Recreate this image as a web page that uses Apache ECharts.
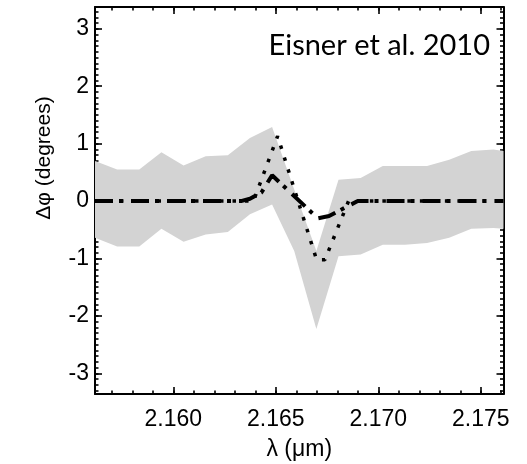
<!DOCTYPE html>
<html>
<head>
<meta charset="utf-8">
<script src="https://cdn.jsdelivr.net/npm/echarts@6/dist/echarts.min.js"></script>
<style>
html,body{margin:0;padding:0;background:#fff;}
#chart{width:527px;height:464px;}
</style>
</head>
<body>
<div id="chart"></div>
<script>
// ---- data ----
const bandLambda = [2.15618, 2.15726, 2.15834, 2.15942, 2.16050, 2.16158, 2.16266, 2.16374, 2.16482, 2.16590,
                    2.16698, 2.16806, 2.16914, 2.17022, 2.17130, 2.17238, 2.17346, 2.17454, 2.17562, 2.17611];
const bandUpper = [0.70, 0.55, 0.55, 0.85, 0.62, 0.78, 0.80, 1.10, 1.29, 0.20,
                   -0.87, 0.37, 0.40, 0.61, 0.61, 0.61, 0.72, 0.87, 0.90, 0.87];
const bandLower = [-0.64, -0.79, -0.79, -0.48, -0.71, -0.58, -0.54, -0.23, -0.06, -0.87,
                   -2.23, -0.96, -0.93, -0.76, -0.76, -0.73, -0.64, -0.48, -0.47, -0.48];

const dotLambda = [2.15618, 2.16391, 2.16509, 2.16699, 2.16740, 2.16855, 2.17611];
const dotValue  = [0, 0, 1.13, -1.02, -1.02, 0, 0];

const dashDotLambda = [2.15618, 2.16330, 2.16374, 2.16430, 2.16482, 2.16705, 2.16760, 2.16840, 2.16900, 2.17611];
const dashDotValue  = [0, 0, 0.04, 0.15, 0.45, -0.30, -0.26, -0.11, 0, 0];

const xMajorTicks = [2.160, 2.165, 2.170, 2.175];
const yMajorTicks = [-3, -2, -1, 0, 1, 2, 3];

const xMin = 2.15618, xMax = 2.17611;
const yMin = -3.36, yMax = 3.38;

const title = 'Eisner et al. 2010';
const xName = 'λ (μm)';
const yName = 'Δφ (degrees)';

// minor tick positions
const xMinorTicks = [];
for (let k = 2157; k <= 2176; k++) xMinorTicks.push(k / 1000);
const yMinorTicks = [];
for (let k = -33; k <= 33; k++) yMinorTicks.push(k / 10);

const FONT = '"Liberation Sans", Arial, Helvetica, sans-serif';

function xAx(pos, vals, len, labels, line) {
  return {
    type: 'value', min: xMin, max: xMax, position: pos, gridIndex: 0,
    axisLine: {show: line, onZero: false, lineStyle: {color: '#000', width: 2}},
    axisTick: {show: true, inside: true, length: len, customValues: vals, lineStyle: {color: '#000', width: 1.6}},
    axisLabel: labels ? {show: true, customValues: xMajorTicks, formatter: v => v.toFixed(3),
      color: '#000', fontSize: 23, fontFamily: FONT, margin: 14} : {show: false},
    splitLine: {show: false},
    name: labels ? xName : '', nameLocation: 'middle', nameGap: 44,
    nameTextStyle: {color: '#000', fontSize: 23, fontFamily: FONT}
  };
}
function yAx(pos, vals, len, labels, line) {
  return {
    type: 'value', min: yMin, max: yMax, position: pos, gridIndex: 0,
    axisLine: {show: line, onZero: false, lineStyle: {color: '#000', width: 2}},
    axisTick: {show: true, inside: true, length: len, customValues: vals, lineStyle: {color: '#000', width: 1.6}},
    axisLabel: labels ? {show: true, customValues: yMajorTicks, formatter: v => String(Math.round(v)),
      color: '#000', fontSize: 23, fontFamily: FONT, margin: 6} : {show: false},
    splitLine: {show: false}
  };
}

const chart = echarts.init(document.getElementById('chart'), null, {renderer: 'canvas'});
chart.setOption({
  animation: false,
  backgroundColor: '#fff',
  grid: {left: 95, right: 23.5, top: 7, bottom: 70, containLabel: false, outerBoundsMode: 'none'},
  xAxis: [
    xAx('bottom', xMajorTicks, 7, true, true),
    xAx('bottom', xMinorTicks, 3.5, false, false),
    xAx('top', xMajorTicks, 7, false, true),
    xAx('top', xMinorTicks, 3.5, false, false)
  ],
  yAxis: [
    yAx('left', yMajorTicks, 7, true, true),
    yAx('left', yMinorTicks, 3.5, false, false),
    yAx('right', yMajorTicks, 7, false, true),
    yAx('right', yMinorTicks, 3.5, false, false)
  ],
  series: [
    {
      type: 'custom',
      xAxisIndex: 0, yAxisIndex: 0,
      z: 1,
      silent: true,
      data: bandLambda.map((l, i) => [l, bandLower[i], bandUpper[i]]),
      encode: {x: 0, y: [1, 2]},
      renderItem: function (params, api) {
        if (params.dataIndex !== 0) return null;
        const pts = [];
        for (let i = 0; i < bandLambda.length; i++) pts.push(api.coord([bandLambda[i], bandUpper[i]]));
        for (let i = bandLambda.length - 1; i >= 0; i--) pts.push(api.coord([bandLambda[i], bandLower[i]]));
        return {type: 'polygon', shape: {points: pts}, style: {fill: '#d3d3d3', stroke: null}};
      }
    },
    {
      type: 'line', xAxisIndex: 0, yAxisIndex: 0, z: 3,
      data: dashDotLambda.map((l, i) => [l, dashDotValue[i]]),
      showSymbol: false, symbol: 'none',
      lineStyle: {color: '#000', width: 4, type: [18, 6, 4, 8], cap: 'butt'}
    },
    {
      type: 'line', xAxisIndex: 0, yAxisIndex: 0, z: 4,
      data: dotLambda.map((l, i) => [l, dotValue[i]]),
      showSymbol: false, symbol: 'none',
      lineStyle: {color: '#000', width: 3.5, type: [3.5, 9], cap: 'butt'}
    }
  ],
  graphic: [
    {
      type: 'text', x: 490, y: 46, z: 10,
      style: {text: title, fill: '#000', font: '29px Lato, "Open Sans", sans-serif',
        textAlign: 'right', textVerticalAlign: 'middle'}
    },
    {
      type: 'text', x: 44, y: 158, rotation: Math.PI / 2, z: 10,
      style: {text: yName, fill: '#000', font: '21px ' + FONT,
        textAlign: 'center', textVerticalAlign: 'middle'}
    }
  ]
});
</script>
</body>
</html>
